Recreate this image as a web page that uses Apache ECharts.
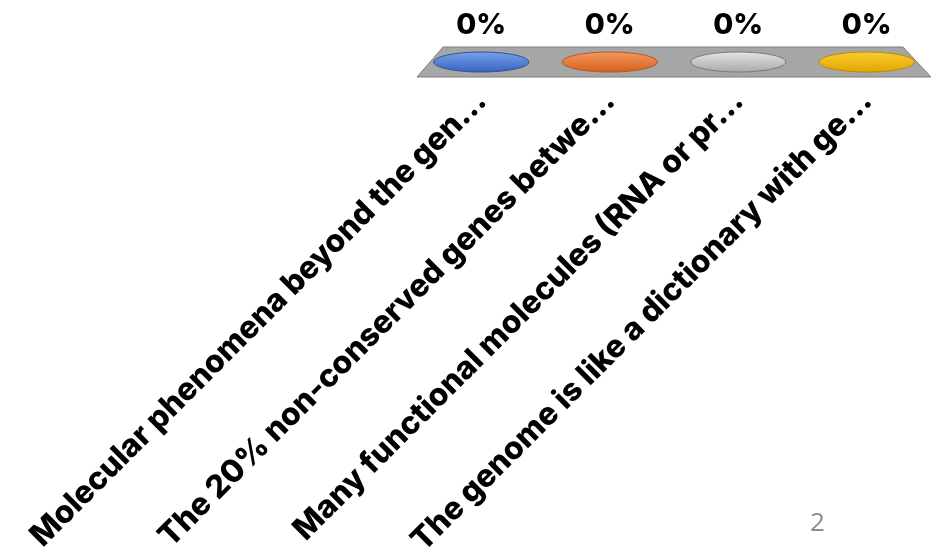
<!DOCTYPE html>
<html>
<head>
<meta charset="utf-8">
<script src="https://cdn.jsdelivr.net/npm/echarts@6/dist/echarts.min.js"></script>
<style>html,body{margin:0;padding:0;background:#fff;}#c{width:936px;height:555px;}</style>
</head>
<body>
<div id="c"></div>
<script>
const categories = [
  'Molecular phenomena beyond the gen…',
  'The 20% non-conserved genes betwe…',
  'Many functional molecules (RNA or pr…',
  'The genome is like a dictionary with ge…'
];
const values = [0, 0, 0, 0];
const pageNumber = '2';

const palette = [
  { top: '#79a3ec', bottom: '#3562c0', border: '#2f528f' },
  { top: '#f59a60', bottom: '#d6601c', border: '#ae5a21' },
  { top: '#e6e6e6', bottom: '#a8a8a8', border: '#7a7a7a' },
  { top: '#f9cc30', bottom: '#e2a500', border: '#bc8c00' }
];

const chart = echarts.init(document.getElementById('c'), null, { renderer: 'canvas' });
const DEPTH = 15;
const FONT = 'Inter, "Open Sans", sans-serif';

function grad(c) {
  return new echarts.graphic.LinearGradient(0, 0, 0, 1, [
    { offset: 0, color: c.top }, { offset: 1, color: c.bottom }
  ]);
}

chart.setOption({
  animation: false,
  grid: { left: 417, right: 5, top: 10, bottom: 478, containLabel: false, outerBoundsMode: 'none' },
  xAxis: {
    type: 'category',
    data: categories,
    axisLine: { show: false },
    axisTick: { show: false },
    axisLabel: {
      interval: 0,
      rotate: 45,
      margin: 19,
      fontSize: 31.5,
      fontWeight: 800,
      color: '#000',
      fontFamily: FONT
    }
  },
  yAxis: { type: 'value', min: 0, max: 100, show: false, splitLine: { show: false } },
  series: [
    {
      type: 'custom',
      silent: true,
      z: 1,
      data: [0],
      renderItem: function (params, api) {
        const cs = params.coordSys;
        const yb = cs.y + cs.height;
        return {
          type: 'polygon',
          shape: { points: [[cs.x, yb], [cs.x + cs.width, yb], [cs.x + cs.width - 28, yb - 2 * DEPTH], [cs.x + 26, yb - 2 * DEPTH]] },
          style: { fill: '#a6a6a6', stroke: '#7f7f7f', lineWidth: 1 }
        };
      }
    },
    {
      type: 'custom',
      z: 2,
      data: values.map((v, i) => [i, v]),
      renderItem: function (params, api) {
        const i = api.value(0);
        const v = api.value(1);
        const base = api.coord([i, 0]);
        const top = api.coord([i, v]);
        const w = api.size([1, 0])[0] * 0.74;
        const rx = w / 2, ry = 10;
        const cx = base[0];
        const yBase = base[1] - DEPTH;
        const yTop = top[1] - DEPTH;
        const c = palette[i % palette.length];
        const children = [];
        if (yBase - yTop > 0.5) {
          children.push({ type: 'ellipse', shape: { cx: cx, cy: yBase, rx: rx, ry: ry }, style: { fill: c.bottom, stroke: c.border, lineWidth: 1 } });
          children.push({ type: 'rect', shape: { x: cx - rx, y: yTop, width: w, height: yBase - yTop }, style: { fill: c.bottom } });
        }
        children.push({ type: 'ellipse', shape: { cx: cx, cy: yTop, rx: rx, ry: ry }, style: { fill: grad(c), stroke: c.border, lineWidth: 1 } });
        children.push({
          type: 'text',
          style: {
            text: Math.round(v) + '%', x: cx, y: yTop - 37, align: 'center', verticalAlign: 'middle',
            fontSize: 29, fontWeight: 800, fill: '#000', fontFamily: FONT
          }
        });
        return { type: 'group', children: children };
      }
    }
  ],
  graphic: [
    { type: 'text', left: 810, top: 511, style: { text: pageNumber, fontSize: 26, fill: '#8c8c8c', fontFamily: '"Open Sans", sans-serif' } }
  ]
});
</script>
</body>
</html>
